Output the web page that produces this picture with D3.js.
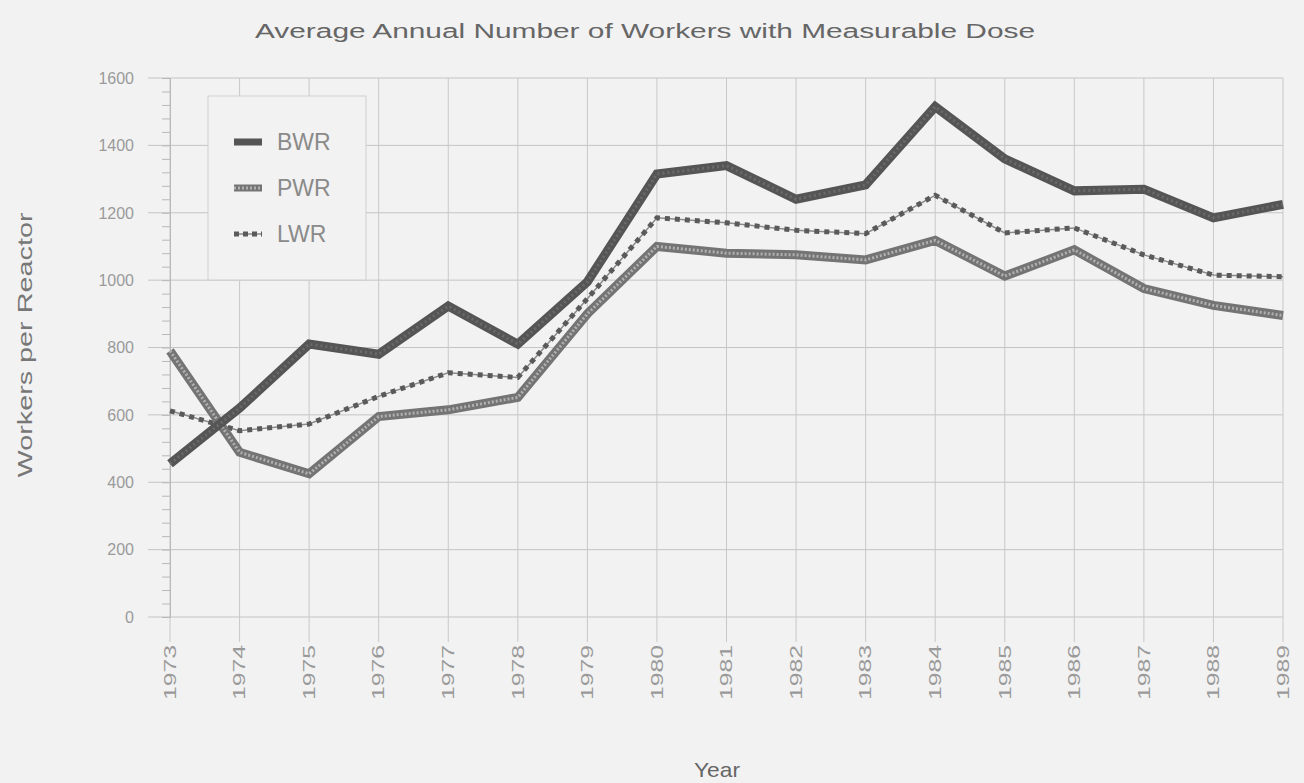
<!DOCTYPE html>
<html>
<head>
<meta charset="utf-8">
<script src="https://cdn.jsdelivr.net/npm/d3@7"></script>
<style>
  html, body { margin: 0; padding: 0; background: #f2f2f2; }
  svg { display: block; }
  text { font-family: "Liberation Sans", Arial, Helvetica, sans-serif; }
</style>
</head>
<body>
<svg id="chart" width="1304" height="783"></svg>
<script>
const years = [1973,1974,1975,1976,1977,1978,1979,1980,1981,1982,1983,1984,1985,1986,1987,1988,1989];
const bwr = [455, 620, 810, 780, 923, 810, 995, 1315, 1340, 1240, 1283, 1515, 1360, 1265, 1270, 1185, 1225];
const pwr = [790, 489, 425, 595, 615, 652, 900, 1100, 1080, 1075, 1060, 1118, 1012, 1090, 975, 925, 895];
const lwr = [612, 553, 573, 655, 725, 711, 945, 1185, 1170, 1148, 1138, 1252, 1140, 1155, 1075, 1015, 1010];
const seriesNames = ["BWR", "PWR", "LWR"];
const yTicks = [0, 200, 400, 600, 800, 1000, 1200, 1400, 1600];
const titleText = "Average Annual Number of Workers with Measurable Dose";
const yTitle = "Workers per Reactor";
const xTitle = "Year";

(function () {
const svg = d3.select("#chart");
const mLeft = 170, mRight = 1283, mTop = 78, mBottom = 617;

const x = d3.scaleLinear().domain([1973, 1989]).range([mLeft, mRight]);
const y = d3.scaleLinear().domain([0, 1600]).range([mBottom, mTop]);

svg.append("rect").attr("width", 1304).attr("height", 783).attr("fill", "#f2f2f2");

// horizontal gridlines
svg.append("g").selectAll("line").data(yTicks).join("line")
  .attr("x1", 148).attr("x2", mRight)
  .attr("y1", d => y(d)).attr("y2", d => y(d))
  .attr("stroke", "#c4c4c4").attr("stroke-width", 1);

// vertical gridlines
svg.append("g").selectAll("line").data(years).join("line")
  .attr("x1", d => x(d)).attr("x2", d => x(d))
  .attr("y1", mTop).attr("y2", mBottom + 25)
  .attr("stroke", "#c8c8c8").attr("stroke-width", 1);

// y axis with minor ticks
const yAxis = d3.axisLeft(y).tickValues(d3.range(0, 1601, 40)).tickSize(8).tickFormat("");
const ya = svg.append("g").attr("transform", `translate(${mLeft},0)`).call(yAxis);
ya.select(".domain").attr("stroke", "#b8b8b8");
ya.selectAll(".tick line").attr("stroke", "#b8b8b8");

// y tick labels
svg.append("g").selectAll("text").data(yTicks).join("text")
  .attr("x", 134).attr("y", d => y(d)).attr("dy", "0.36em")
  .attr("text-anchor", "end").attr("font-size", 16).attr("fill", "#9a9a9a")
  .text(d => d);

// x tick labels (rotated)
svg.append("g").selectAll("text").data(years).join("text")
  .attr("transform", d => `translate(${x(d)},${mBottom + 28}) rotate(-90)`)
  .attr("dy", "0.36em").attr("text-anchor", "end")
  .attr("font-size", 16).attr("fill", "#9a9a9a")
  .attr("textLength", 55).attr("lengthAdjust", "spacingAndGlyphs")
  .text(d => d);

// title
svg.append("text").attr("x", 645).attr("y", 38).attr("text-anchor", "middle")
  .attr("font-size", 20).attr("fill", "#666")
  .attr("textLength", 780).attr("lengthAdjust", "spacingAndGlyphs")
  .text(titleText);

// y title
svg.append("text").attr("transform", "translate(32,345) rotate(-90)")
  .attr("text-anchor", "middle").attr("font-size", 20).attr("fill", "#777")
  .attr("textLength", 265).attr("lengthAdjust", "spacingAndGlyphs")
  .text(yTitle);

// x title
svg.append("text").attr("x", 717).attr("y", 777).attr("text-anchor", "middle")
  .attr("font-size", 21).attr("fill", "#666")
  .attr("textLength", 46).attr("lengthAdjust", "spacingAndGlyphs")
  .text(xTitle);

const line = d3.line().x((d, i) => x(years[i])).y(d => y(d));

function drawSeries(g, data, kind) {
  if (kind === "BWR") {
    g.append("path").datum(data).attr("d", line).attr("fill", "none")
      .attr("stroke", "#555").attr("stroke-width", 9).attr("stroke-linejoin", "miter");
    g.append("path").datum(data).attr("d", line).attr("fill", "none")
      .attr("stroke", "#6a6a6a").attr("stroke-width", 3).attr("stroke-dasharray", "2,3");
  } else if (kind === "PWR") {
    g.append("path").datum(data).attr("d", line).attr("fill", "none")
      .attr("stroke", "#747474").attr("stroke-width", 9).attr("stroke-linejoin", "miter");
    g.append("path").datum(data).attr("d", line).attr("fill", "none")
      .attr("stroke", "#b0b0b0").attr("stroke-width", 3).attr("stroke-dasharray", "2,2");
  } else {
    g.append("path").datum(data).attr("d", line).attr("fill", "none")
      .attr("stroke", "#8a8a8a").attr("stroke-width", 1.5);
    g.append("path").datum(data).attr("d", line).attr("fill", "none")
      .attr("stroke", "#5a5a5a").attr("stroke-width", 5).attr("stroke-dasharray", "5,5");
  }
}

const lg = svg.append("g");
drawSeries(lg, lwr, "LWR");
drawSeries(lg, pwr, "PWR");
drawSeries(lg, bwr, "BWR");

// legend
const leg = svg.append("g");
leg.append("rect").attr("x", 208).attr("y", 96).attr("width", 158).attr("height", 184)
  .attr("fill", "#f2f2f2").attr("stroke", "#cfcfcf").attr("stroke-width", 1);
const sl = d3.line().x(d => d[0]).y(d => d[1]);
seriesNames.forEach((name, i) => {
  const yy = 142 + i * 46;
  const sg = leg.append("g");
  const seg = [[234, yy], [262, yy]];
  if (name === "BWR") {
    sg.append("path").datum(seg).attr("d", sl).attr("stroke", "#555").attr("stroke-width", 7);
  } else if (name === "PWR") {
    sg.append("path").datum(seg).attr("d", sl).attr("stroke", "#747474").attr("stroke-width", 7);
    sg.append("path").datum(seg).attr("d", sl).attr("stroke", "#b0b0b0").attr("stroke-width", 3).attr("stroke-dasharray", "2,2");
  } else {
    sg.append("path").datum(seg).attr("d", sl).attr("stroke", "#8a8a8a").attr("stroke-width", 1.5);
    sg.append("path").datum(seg).attr("d", sl).attr("stroke", "#5a5a5a").attr("stroke-width", 5).attr("stroke-dasharray", "5,4");
  }
  leg.append("text").attr("x", 277).attr("y", yy).attr("dy", "0.36em")
    .attr("font-size", 23).attr("fill", "#8a8a8a").text(name);
});
})();
</script>
</body>
</html>
